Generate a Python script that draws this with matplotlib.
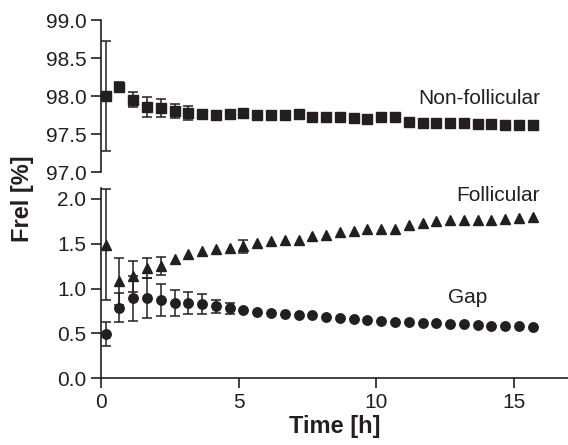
import numpy as np
import matplotlib
matplotlib.use("Agg")
import matplotlib.pyplot as plt

plt.rcParams['font.family'] = ['Liberation Sans', 'DejaVu Sans']

# time points [h]
time_h = [0.17 + 0.5 * k for k in range(32)]

nonfoll = [98.00, 98.12, 97.95, 97.86, 97.845, 97.80, 97.78, 97.76, 97.75, 97.76,
           97.77, 97.75, 97.75, 97.75, 97.76, 97.72, 97.72, 97.72, 97.71, 97.70,
           97.72, 97.72, 97.66, 97.64, 97.64, 97.64, 97.64, 97.63, 97.63, 97.62,
           97.62, 97.62]
nonfoll_err = [0.73, 0.06, 0.10, 0.13, 0.115, 0.09, 0.09, 0.04, 0.0, 0.0,
               0.0] + [0.0] * 21

foll = [1.49, 1.08, 1.135, 1.23, 1.25, 1.33, 1.384, 1.413, 1.44, 1.45,
        1.469, 1.507, 1.532, 1.543, 1.543, 1.58, 1.60, 1.63, 1.636, 1.663,
        1.663, 1.663, 1.71, 1.73, 1.748, 1.76, 1.76, 1.767, 1.767, 1.775,
        1.786, 1.80]
foll_err = [0.62, 0.26, 0.17, 0.11, 0.10, 0.0, 0.0, 0.0, 0.0, 0.0,
            0.07] + [0.0] * 21

gap = [0.494, 0.788, 0.893, 0.893, 0.874, 0.844, 0.837, 0.829, 0.80, 0.78,
       0.762, 0.743, 0.725, 0.718, 0.706, 0.706, 0.688, 0.67, 0.658, 0.65,
       0.643, 0.632, 0.625, 0.62, 0.614, 0.606, 0.60, 0.595, 0.587, 0.585,
       0.585, 0.576]
gap_err = [0.135, 0.165, 0.25, 0.22, 0.18, 0.145, 0.12, 0.11, 0.07, 0.06,
           0.0] + [0.0] * 21

labels = ["Non-follicular", "Follicular", "Gap"]
x_ticks = [0, 5, 10, 15]
top_ticks = [97.0, 97.5, 98.0, 98.5, 99.0]
bot_ticks = [0.0, 0.5, 1.0, 1.5, 2.0]

col = '#231f20'
W, H = 568, 445
fig = plt.figure(figsize=(W / 100, H / 100), dpi=100)

left = 101 / W
width = (17 * 27.55) / W
ax_top = fig.add_axes([left, 1 - 172 / H, width, (172 - 20) / H])
ax_bot = fig.add_axes([left, 1 - 378.3 / H, width, (378.3 - 188) / H])


def draw(ax, x, y, e, marker, ms):
    x = np.asarray(x); y = np.asarray(y); e = np.asarray(e)
    m = e > 0
    ax.errorbar(x[m], y[m], yerr=e[m], fmt='none', ecolor=col,
                elinewidth=1.1, capsize=3.5, capthick=1.1, clip_on=False,
                zorder=2)
    ax.plot(x, y, linestyle='none', marker=marker, ms=ms, mfc=col, mec=col,
            clip_on=False, zorder=3)


draw(ax_top, time_h, nonfoll, nonfoll_err, 's', 6.6)
draw(ax_bot, time_h, foll, foll_err, '^', 7.2)
draw(ax_bot, time_h, gap, gap_err, 'o', 6.8)

for ax in (ax_top, ax_bot):
    ax.set_xlim(0, 17)
    ax.spines['right'].set_visible(False)
    ax.spines['top'].set_visible(False)
    for s in ax.spines.values():
        s.set_linewidth(1.2)
        s.set_color(col)
    ax.tick_params(axis='both', length=7, width=1.2, color=col,
                   labelsize=15, labelcolor=col, pad=3.5)
    ax.patch.set_alpha(0)

ax_top.set_ylim(97.0, 99.0)
ax_top.set_yticks(top_ticks)
ax_top.set_yticklabels([f"{v:.1f}" for v in top_ticks])
ax_top.spines['bottom'].set_visible(False)
ax_top.set_xticks([])

ax_bot.set_ylim(0, 2.12)
ax_bot.set_yticks(bot_ticks)
ax_bot.set_yticklabels([f"{v:.1f}" for v in bot_ticks])
ax_bot.set_xticks(x_ticks)
ax_bot.set_xticklabels([str(v) for v in x_ticks])
ax_bot.set_xlabel("Time [h]", fontsize=17, fontweight='bold', color=col,
                  labelpad=2)

ax_top.text(15.95, 97.895, labels[0], fontsize=15, color=col,
            ha='right', va='baseline')
ax_bot.text(15.92, 1.979, labels[1], fontsize=15, color=col,
            ha='right', va='baseline')
ax_bot.text(13.3, 0.844, labels[2], fontsize=15, color=col,
            ha='center', va='baseline')

fig.text(22 / W, 1 - 198.5 / H, "Frel [%]", rotation=90, fontsize=17,
         fontweight='bold', color=col, ha='center', va='center')

fig.savefig("out.png", dpi=100)
